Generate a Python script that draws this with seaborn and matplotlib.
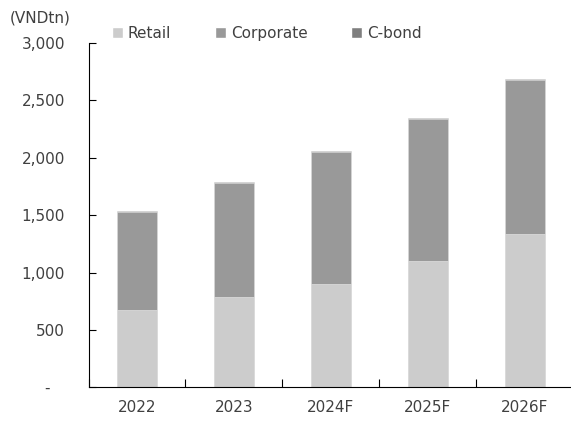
import matplotlib
matplotlib.use("Agg")
import matplotlib.pyplot as plt
from matplotlib.patches import Patch
from matplotlib.ticker import FixedLocator
import numpy as np
import pandas as pd
import seaborn as sns

# Loan book by segment (VND trillion)
years = ["2022", "2023", "2024F", "2025F", "2026F"]
retail = [675, 788, 902, 1102, 1337]
corporate = [852, 989, 1148, 1236, 1340]
cbond = [10, 10, 10, 10, 10]

ytick_values = [0, 500, 1000, 1500, 2000, 2500, 3000]
ytick_labels = ["-   ", "500", "1,000", "1,500", "2,000", "2,500", "3,000"]

col_retail = "#cccccc"
col_corp = "#999999"
col_cbond = "#7f7f7f"
text_col = "#404040"

sns.set_theme(style="white")
plt.rcParams["font.family"] = ["DejaVu Sans"]
plt.rcParams["ytick.left"] = True
plt.rcParams["xtick.bottom"] = True
plt.rcParams["ytick.direction"] = "in"
plt.rcParams["xtick.direction"] = "in"

df = pd.DataFrame({"year": years, "retail": retail,
                   "corporate": corporate, "cbond": cbond})
df["lvl_corp"] = df["retail"] + df["corporate"]
df["lvl_total"] = df["lvl_corp"] + df["cbond"]

fig = plt.figure(figsize=(5.71, 4.22), dpi=100)
ax = fig.add_axes([0.155, 0.0818, 0.849, 0.8164])

# Stacked bars drawn as cumulative layers, back to front
common = dict(x="year", order=years, width=0.41, edgecolor="#e0e0e0",
              linewidth=0.5, ax=ax)
sns.barplot(data=df, y="lvl_total", color=col_cbond, saturation=1, **common)
sns.barplot(data=df, y="lvl_corp", color=col_corp, saturation=1, **common)
sns.barplot(data=df, y="retail", color=col_retail, saturation=1, **common)

ax.set_xlim(-0.5, len(years) - 0.5)
ax.set_ylim(0, 3000)
ax.set_xlabel("")
ax.set_ylabel("")

ax.set_yticks(ytick_values)
ax.set_yticklabels(ytick_labels)
ax.yaxis.set_tick_params(which="major", left=True, direction="in", length=5,
                         width=0.8, color="black", pad=17, labelsize=11,
                         labelcolor=text_col)
ax.xaxis.set_tick_params(which="major", length=0, pad=9, labelsize=11,
                         labelcolor=text_col)
ax.xaxis.set_minor_locator(FixedLocator(np.arange(-0.5, len(years), 1.0)))
ax.xaxis.set_tick_params(which="minor", bottom=True, direction="in", length=6,
                         width=0.8, color="black")

for side in ("top", "right"):
    ax.spines[side].set_visible(False)
for side in ("left", "bottom"):
    ax.spines[side].set_color("black")
    ax.spines[side].set_linewidth(0.8)

fig.text(0.07, 0.957, "(VNDtn)", ha="center", va="center", fontsize=11,
         color=text_col)

handles = [Patch(facecolor=col_retail, label="Retail"),
           Patch(facecolor=col_corp, label="Corporate"),
           Patch(facecolor=col_cbond, label="C-bond")]
fig.legend(handles=handles, loc="center left", bbox_to_anchor=(0.196, 0.921),
           ncol=3, frameon=False, fontsize=11, labelcolor=text_col,
           handlelength=0.7, handleheight=0.7, handletextpad=0.35,
           columnspacing=2.85, borderpad=0, borderaxespad=0)

fig.savefig("out.png", dpi=100)
